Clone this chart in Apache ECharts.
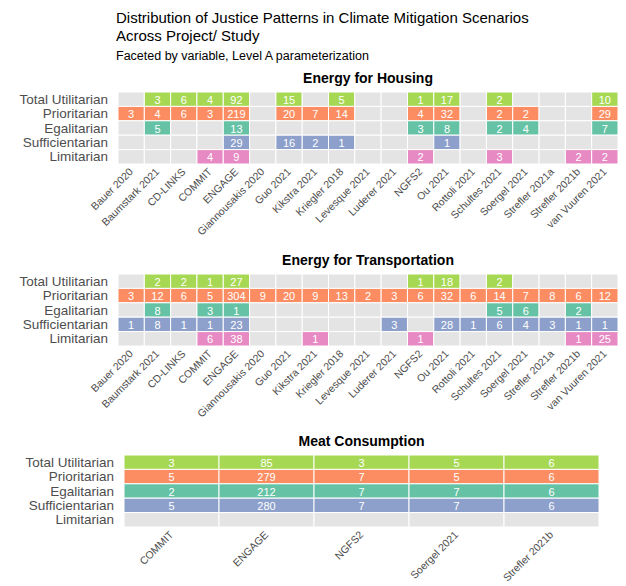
<!DOCTYPE html>
<html>
<head>
<meta charset="utf-8">
<script src="https://cdn.jsdelivr.net/npm/echarts@6/dist/echarts.min.js"></script>
<style>
  html, body { margin: 0; padding: 0; background: #fff; }
  #chart { width: 626px; height: 586px; }
</style>
</head>
<body>
<div id="chart"></div>
<script>
// Justice patterns (rows, top to bottom)
const patterns = ['Total Utilitarian', 'Prioritarian', 'Egalitarian', 'Sufficientarian', 'Limitarian'];

// Projects / studies for the two energy facets
const projects = ['Bauer 2020', 'Baumstark 2021', 'CD-LINKS', 'COMMIT', 'ENGAGE', 'Giannousakis 2020',
  'Guo 2021', 'Kikstra 2021', 'Kriegler 2018', 'Levesque 2021', 'Luderer 2021', 'NGFS2', 'Ou 2021',
  'Rottoli 2021', 'Schultes 2021', 'Soergel 2021', 'Strefler 2021a', 'Strefler 2021b', 'van Vuuren 2021'];

// Projects for the meat consumption facet
const meatProjects = ['COMMIT', 'ENGAGE', 'NGFS2', 'Soergel 2021', 'Strefler 2021b'];

// Energy for Housing: scenario counts per project
const housingTotalUtilitarian = [null, 3, 6, 4, 92, null, 15, null, 5, null, null, 1, 17, null, 2, null, null, null, 10];
const housingPrioritarian     = [3, 4, 6, 3, 219, null, 20, 7, 14, null, null, 4, 32, null, 2, 2, null, null, 29];
const housingEgalitarian      = [null, 5, null, null, 13, null, null, null, null, null, null, 3, 8, null, 2, 4, null, null, 7];
const housingSufficientarian  = [null, null, null, null, 29, null, 16, 2, 1, null, null, null, 1, null, null, null, null, null, null];
const housingLimitarian       = [null, null, null, 4, 9, null, null, null, null, null, null, 2, null, null, 3, null, null, 2, 2];

// Energy for Transportation: scenario counts per project
const transportTotalUtilitarian = [null, 2, 2, 1, 27, null, null, null, null, null, null, 1, 18, null, 2, null, null, null, null];
const transportPrioritarian     = [3, 12, 6, 5, 304, 9, 20, 9, 13, 2, 3, 6, 32, 6, 14, 7, 8, 6, 12];
const transportEgalitarian      = [null, 8, null, 3, 1, null, null, null, null, null, null, null, null, null, 5, 6, null, 2, null];
const transportSufficientarian  = [1, 8, 1, 1, 23, null, null, null, null, null, 3, null, 28, 1, 6, 4, 3, 1, 1];
const transportLimitarian       = [null, null, null, 6, 38, null, null, 1, null, null, null, 1, null, null, null, null, null, 1, 25];

// Meat Consumption: scenario counts per project
const meatTotalUtilitarian = [3, 85, 3, 5, 6];
const meatPrioritarian     = [5, 279, 7, 5, 6];
const meatEgalitarian      = [2, 212, 7, 7, 6];
const meatSufficientarian  = [5, 280, 7, 7, 6];
const meatLimitarian       = [null, null, null, null, null];

// Fill colour per justice pattern; empty cells are grey
const patternColors = ['#a6d854', '#fc8d62', '#66c2a5', '#8da0cb', '#e78ac3'];
const emptyColor = '#e4e4e4';
const FONT = "'Liberation Sans', Arial, sans-serif";

const panels = [
  { title: 'Energy for Housing', cats: projects,
    rows: [housingTotalUtilitarian, housingPrioritarian, housingEgalitarian, housingSufficientarian, housingLimitarian],
    grid: { left: 118, top: 92, width: 500, height: 72 } },
  { title: 'Energy for Transportation', cats: projects,
    rows: [transportTotalUtilitarian, transportPrioritarian, transportEgalitarian, transportSufficientarian, transportLimitarian],
    grid: { left: 118, top: 274, width: 500, height: 72 } },
  { title: 'Meat Consumption', cats: meatProjects,
    rows: [meatTotalUtilitarian, meatPrioritarian, meatEgalitarian, meatSufficientarian, meatLimitarian],
    grid: { left: 124, top: 455, width: 475, height: 72 } }
];

const chart = echarts.init(document.getElementById('chart'), null, { renderer: 'svg' });

const grids = [], xAxes = [], yAxes = [], series = [];
const titles = [
  { text: 'Distribution of Justice Patterns in Climate Mitigation Scenarios\nAcross Project/ Study',
    left: 116, top: 8, padding: 0,
    textStyle: { fontFamily: FONT, fontSize: 15, fontWeight: 'normal', color: '#000', lineHeight: 18 } },
  { text: 'Faceted by variable, Level A parameterization',
    left: 116, top: 49, padding: 0,
    textStyle: { fontFamily: FONT, fontSize: 12.5, fontWeight: 'normal', color: '#000' } }
];

panels.forEach((p, i) => {
  grids.push(p.grid);
  titles.push({
    text: p.title,
    left: p.grid.left + p.grid.width / 2, textAlign: 'center',
    top: p.grid.top - 21, padding: 0,
    textStyle: { fontFamily: FONT, fontSize: 14, fontWeight: 'bold', color: '#000' }
  });
  xAxes.push({
    type: 'category', gridIndex: i, data: p.cats,
    axisLine: { show: false }, axisTick: { show: false }, splitLine: { show: false },
    axisLabel: { rotate: 45, interval: 0, margin: 6, fontFamily: FONT, fontSize: 10.5, color: '#4d4d4d' }
  });
  yAxes.push({
    type: 'category', gridIndex: i, data: patterns, inverse: true,
    axisLine: { show: false }, axisTick: { show: false }, splitLine: { show: false },
    axisLabel: { interval: 0, margin: 10, fontFamily: FONT, fontSize: 13.5, lineHeight: 14,
                 color: '#4d4d4d', hideOverlap: false }
  });

  // one cell per (project, pattern) combination
  const cells = [];
  p.rows.forEach((row, r) => {
    row.forEach((v, c) => {
      cells.push({ value: [c, r], count: v, color: v == null ? emptyColor : patternColors[r] });
    });
  });

  series.push({
    type: 'custom', xAxisIndex: i, yAxisIndex: i,
    encode: { x: 0, y: 1 },
    data: cells.map(d => d.value),
    renderItem: function (params, api) {
      const cell = cells[params.dataIndex];
      const center = api.coord([api.value(0), api.value(1)]);
      const size = api.size([1, 1]);
      const children = [{
        type: 'rect',
        shape: { x: center[0] - size[0] / 2, y: center[1] - size[1] / 2, width: size[0], height: size[1] },
        style: { fill: cell.color, stroke: '#ffffff', lineWidth: 1 }
      }];
      if (cell.count != null) {
        children.push({
          type: 'text',
          style: { text: String(cell.count), x: center[0], y: center[1] + 0.5, align: 'center',
                   verticalAlign: 'middle', fill: '#ffffff', font: '11px ' + FONT }
        });
      }
      return { type: 'group', children: children };
    }
  });
});

chart.setOption({
  animation: false,
  backgroundColor: '#ffffff',
  title: titles,
  grid: grids,
  xAxis: xAxes,
  yAxis: yAxes,
  series: series
});
</script>
</body>
</html>
